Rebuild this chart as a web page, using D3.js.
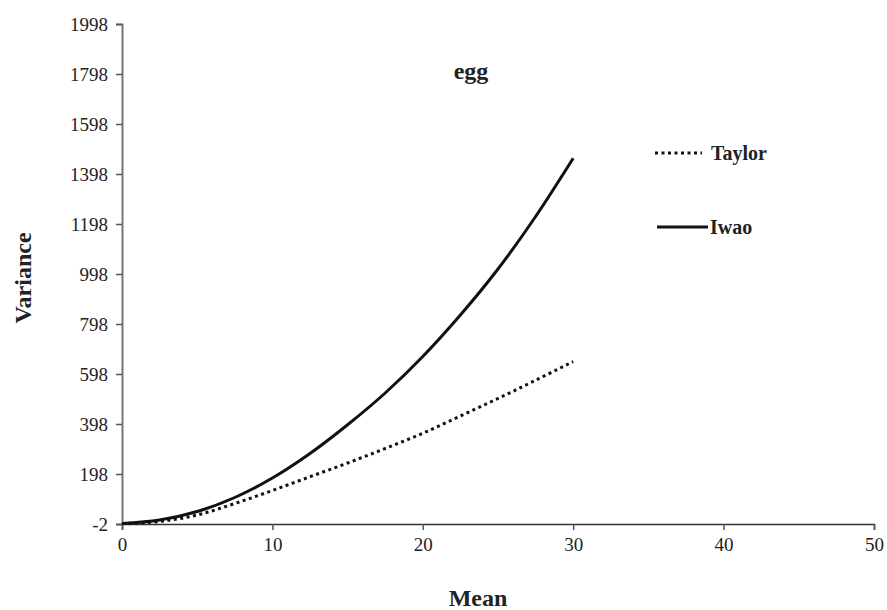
<!DOCTYPE html>
<html>
<head>
<meta charset="utf-8">
<script src="https://cdnjs.cloudflare.com/ajax/libs/d3/7.8.5/d3.min.js"></script>
<style>
  body { margin: 0; background: #fff; }
  text { font-family: "Liberation Serif", "Times New Roman", serif; fill: #222; }
</style>
</head>
<body>
<svg id="chart"></svg>
<script>
// values
const means = [0, 2.5, 5, 7.5, 10, 12.5, 15, 17.5, 20, 22.5, 25, 27.5, 30]
const taylor = [0, 8, 34, 80, 132, 187, 242, 300, 361, 430, 500, 573, 648]
const iwao = [0, 14, 48, 104, 182, 280, 395, 522, 668, 834, 1018, 1228, 1461]
const yTicks = [-2, 198, 398, 598, 798, 998, 1198, 1398, 1598, 1798, 1998]
const xTicks = [0, 10, 20, 30, 40, 50]
const seriesNames = ["Taylor", "Iwao"]

let width = 887
let height = 610

let margin = {
  top: 24,
  right: 13,
  bottom: 86,
  left: 122
}

let svg = d3.select("#chart")
  .attr("width", width)
  .attr("height", height)

let chart = svg.append("g")
  .attr("transform", "translate(" + margin.left + ", " + margin.top + ")")

let innerW = width - margin.left - margin.right
let innerH = height - margin.top - margin.bottom

let x = d3.scaleLinear()
  .domain([0, 50])
  .range([0, innerW])

let y = d3.scaleLinear()
  .domain([-2, 1998])
  .range([innerH, 0])

// plain labels, no thousands comma, ascii minus
let plain = function(d) { return String(d) }

let xAxis = d3.axisBottom(x)
  .tickValues(xTicks)
  .tickFormat(plain)
  .tickSize(6)
  .tickPadding(8)

let yAxis = d3.axisLeft(y)
  .tickValues(yTicks)
  .tickFormat(plain)
  .tickSize(6)
  .tickPadding(8)

// Y-axis
let gy = chart.append("g")
  .attr("id", "y-axis")
  .call(yAxis)
  .attr("font-family", "Liberation Serif")
  .attr("font-size", 19)
gy.select(".domain").attr("stroke", "#777").attr("stroke-width", 2)
gy.selectAll(".tick line").attr("stroke", "#555").attr("stroke-width", 1.5)
gy.selectAll(".tick text").attr("fill", "#222")

// X-axis
let gx = chart.append("g")
  .attr("id", "x-axis")
  .attr("transform", "translate(0," + innerH + ")")
  .call(xAxis)
  .attr("font-family", "Liberation Serif")
  .attr("font-size", 19)
gx.select(".domain").attr("stroke", "#333").attr("stroke-width", 1.5)
gx.selectAll(".tick line").attr("stroke", "#555").attr("stroke-width", 1.5)
gx.selectAll(".tick text").attr("fill", "#222")

let pts = function(vals) {
  return means.map(function(m, i) { return [m, vals[i]] })
}

let line = d3.line()
  .x(function(d) { return x(d[0]) })
  .y(function(d) { return y(d[1]) })
  .curve(d3.curveCatmullRom)

// Taylor - dotted
chart.append("path")
  .datum(pts(taylor))
  .attr("fill", "none")
  .attr("stroke", "#111")
  .attr("stroke-width", 3)
  .attr("stroke-dasharray", "3,3.5")
  .attr("d", line)

// Iwao - solid
chart.append("path")
  .datum(pts(iwao))
  .attr("fill", "none")
  .attr("stroke", "#111")
  .attr("stroke-width", 3)
  .attr("d", line)

// chart title
svg.append("text")
  .attr("x", 471)
  .attr("y", 79)
  .attr("text-anchor", "middle")
  .attr("font-size", 24)
  .attr("font-weight", "bold")
  .text("egg")

// legend
let legend = svg.append("g")
legend.append("line")
  .attr("x1", 655).attr("x2", 702)
  .attr("y1", 153).attr("y2", 153)
  .attr("stroke", "#111")
  .attr("stroke-width", 3)
  .attr("stroke-dasharray", "3,3.5")
legend.append("text")
  .attr("x", 711)
  .attr("y", 160)
  .attr("font-size", 20)
  .attr("font-weight", "bold")
  .text(seriesNames[0])

legend.append("line")
  .attr("x1", 657).attr("x2", 708)
  .attr("y1", 227).attr("y2", 227)
  .attr("stroke", "#111")
  .attr("stroke-width", 3)
legend.append("text")
  .attr("x", 710)
  .attr("y", 234)
  .attr("font-size", 20)
  .attr("font-weight", "bold")
  .text(seriesNames[1])

// axis titles
svg.append("text")
  .attr("x", 478)
  .attr("y", 606)
  .attr("text-anchor", "middle")
  .attr("font-size", 24)
  .attr("font-weight", "bold")
  .text("Mean")

svg.append("text")
  .attr("transform", "translate(31, 278) rotate(-90)")
  .attr("text-anchor", "middle")
  .attr("font-size", 24)
  .attr("font-weight", "bold")
  .text("Variance")
</script>
</body>
</html>
